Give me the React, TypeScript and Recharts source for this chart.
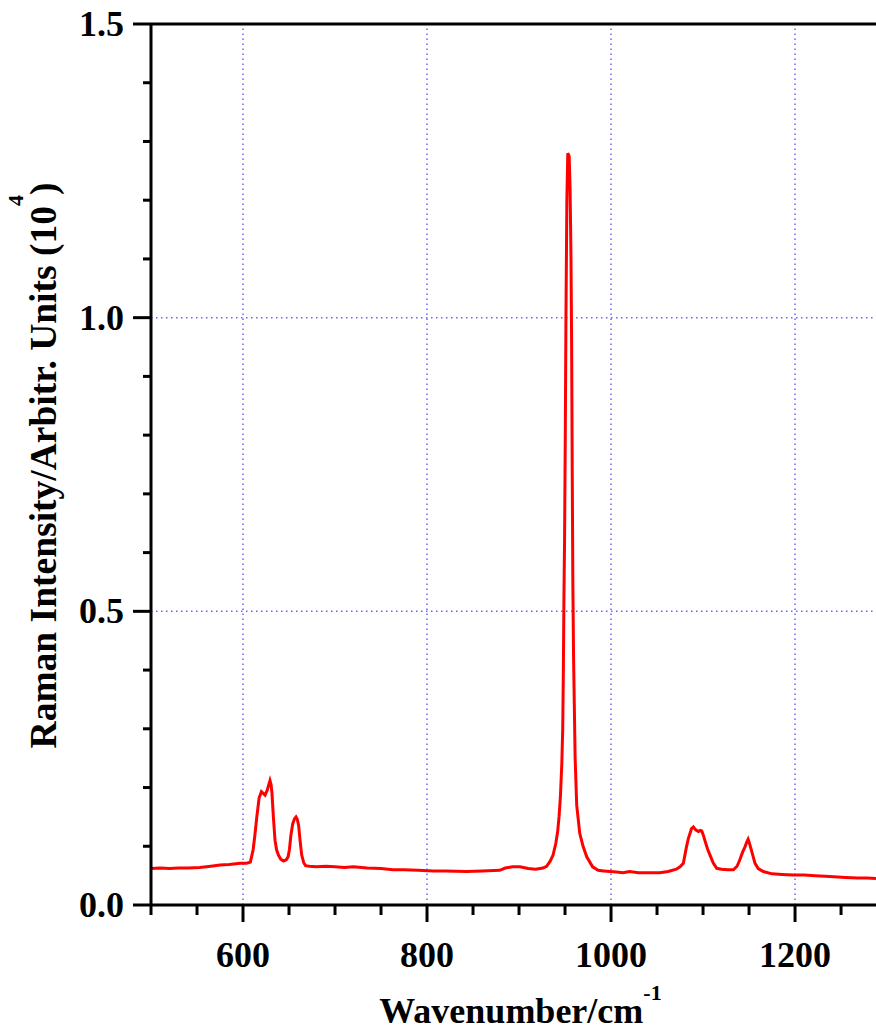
import { LineChart, Line, XAxis, YAxis, ReferenceLine } from 'recharts';

const FONT = '"Liberation Serif", "Times New Roman", serif';

const wavenumbers = [
  500, 510, 520, 530, 540, 553, 565, 575, 585, 597, 604, 608, 611, 613, 615, 617.5, 620, 622, 624,
  626.5, 628, 629.3, 630.5, 631.5, 633, 634.8, 636.5, 638.5, 641, 644, 647, 649, 650.5, 652, 654,
  656, 657.6, 659, 660.5, 662, 663.8, 666, 668, 672, 680, 690, 700, 710, 720, 735, 750, 763, 775,
  790, 807, 820, 843, 860, 879, 885, 893, 901, 910, 918, 926, 930, 934, 937, 940, 942, 943.5, 945,
  946.5, 947.5, 948.2, 948.8, 949.5, 950.3, 951, 952, 953, 954.5, 955.5, 956.5, 957.2, 957.8,
  958.5, 959.3, 960, 961, 962.7, 966, 969.6, 973.6, 980, 986, 992, 999, 1006, 1013, 1020, 1030,
  1042, 1053, 1062, 1071, 1075, 1078.6, 1082, 1084, 1085.9, 1087.5, 1089.5, 1092, 1094.9, 1097,
  1098.6, 1100.5, 1102, 1105, 1107.6, 1111, 1114.9, 1120, 1127, 1133, 1137, 1140, 1143, 1145.6,
  1147.5, 1149, 1150.5, 1153, 1156.5, 1160, 1165.5, 1175, 1186, 1198, 1210, 1222, 1233, 1242,
  1255, 1268, 1278, 1288,
];

const intensity = [
  0.062, 0.063, 0.062, 0.063, 0.063, 0.064, 0.066, 0.068, 0.069, 0.071, 0.071, 0.073, 0.094, 0.12,
  0.15, 0.182, 0.193, 0.19, 0.187, 0.196, 0.205, 0.212, 0.205, 0.19, 0.15, 0.11, 0.094, 0.085,
  0.078, 0.075, 0.077, 0.082, 0.095, 0.118, 0.138, 0.147, 0.15, 0.146, 0.135, 0.11, 0.085, 0.072,
  0.067, 0.066, 0.065, 0.066, 0.065, 0.064, 0.065, 0.063, 0.062, 0.06, 0.06, 0.059, 0.058, 0.058,
  0.057, 0.058, 0.059, 0.063, 0.065, 0.065, 0.062, 0.061, 0.063, 0.066, 0.075, 0.085, 0.105,
  0.125, 0.15, 0.185, 0.24, 0.3, 0.4, 0.52, 0.62, 0.8, 1.0, 1.2, 1.28, 1.275, 1.22, 1.1, 0.95,
  0.75, 0.55, 0.42, 0.35, 0.25, 0.17, 0.122, 0.1, 0.082, 0.065, 0.059, 0.058, 0.057, 0.056, 0.055,
  0.057, 0.055, 0.055, 0.055, 0.057, 0.061, 0.065, 0.071, 0.099, 0.113, 0.122, 0.13, 0.133, 0.128,
  0.125, 0.127, 0.126, 0.118, 0.11, 0.095, 0.085, 0.072, 0.0625, 0.061, 0.06, 0.06, 0.066, 0.077,
  0.09, 0.099, 0.107, 0.112, 0.105, 0.091, 0.071, 0.062, 0.057, 0.053, 0.052, 0.051, 0.051, 0.05,
  0.049, 0.048, 0.047, 0.046, 0.046, 0.045,
];

const xTicks = [500, 550, 600, 650, 700, 750, 800, 850, 900, 950, 1000, 1050, 1100, 1150, 1200, 1250];
const yTicks = [0, 0.1, 0.2, 0.3, 0.4, 0.5, 0.6, 0.7, 0.8, 0.9, 1.0, 1.1, 1.2, 1.3, 1.4, 1.5];
const xGrid = [600, 800, 1000, 1200];
const yGrid = [0.5, 1.0];

const data = wavenumbers.map((x, i) => ({ x, y: intensity[i] }));

const gridStyle = { stroke: '#6666ff', strokeWidth: 1.5, strokeDasharray: '1.5 3.5' };

function XTick({ x, y, payload }: any) {
  const major = payload.value % 200 === 0;
  return (
    <g>
      <line x1={x} y1={y} x2={x} y2={y + (major ? 17 : 10)} stroke="#000" strokeWidth={3} />
      {major && (
        <text x={x} y={y + 62} textAnchor="middle" fontFamily={FONT} fontWeight="bold" fontSize={36} fill="#000">
          {payload.value}
        </text>
      )}
    </g>
  );
}

function YTick({ x, y, payload }: any) {
  const v = payload.value as number;
  const major = Math.abs(v * 2 - Math.round(v * 2)) < 1e-6;
  return (
    <g>
      <line x1={x - (major ? 18 : 8)} y1={y} x2={x} y2={y} stroke="#000" strokeWidth={3} />
      {major && (
        <text x={x - 27} y={y + 12} textAnchor="end" fontFamily={FONT} fontWeight="bold" fontSize={36} fill="#000">
          {v.toFixed(1)}
        </text>
      )}
    </g>
  );
}

function XTitle({ viewBox }: any) {
  const cx = viewBox.x + viewBox.width / 2 + 7;
  return (
    <text x={cx} y={viewBox.y + 118} textAnchor="middle" fontFamily={FONT} fontWeight="bold" fontSize={36} fill="#000">
      Wavenumber/cm
      <tspan dy={-23} fontSize={22}>-1</tspan>
    </text>
  );
}

function YTitle({ viewBox }: any) {
  const cy = viewBox.y + viewBox.height / 2 + 1;
  const bx = 56;
  return (
    <text
      x={bx}
      y={cy}
      transform={`rotate(-90, ${bx}, ${cy})`}
      textAnchor="middle"
      fontFamily={FONT}
      fontWeight="bold"
      fontSize={37.5}
      fill="#000"
    >
      Raman Intensity/Arbitr. Units (10
      <tspan dy={-33} fontSize={22}>4</tspan>
      <tspan dy={33}>)</tspan>
    </text>
  );
}

export default function App() {
  return (
    <div style={{ position: 'absolute', left: 0, top: 0, width: 876, height: 1030, overflow: 'hidden' }}>
      <LineChart width={876} height={1030} data={data} margin={{ top: 24, right: 0, bottom: 0, left: 0 }}>
        {xGrid.map((v) => (
          <ReferenceLine key={`gx${v}`} x={v} {...gridStyle} />
        ))}
        {yGrid.map((v) => (
          <ReferenceLine key={`gy${v}`} y={v} {...gridStyle} />
        ))}
        <ReferenceLine y={1.5} stroke="#000" strokeWidth={3} />
        <XAxis
          dataKey="x"
          type="number"
          domain={[500, 1288]}
          allowDataOverflow
          ticks={xTicks}
          interval={0}
          height={125}
          tickSize={0}
          tickMargin={0}
          tickLine={false}
          axisLine={{ stroke: '#000', strokeWidth: 3 }}
          tick={<XTick />}
          label={{ content: <XTitle /> }}
        />
        <YAxis
          type="number"
          domain={[0, 1.5]}
          ticks={yTicks}
          interval={0}
          width={151}
          tickSize={0}
          tickMargin={0}
          tickLine={false}
          axisLine={{ stroke: '#000', strokeWidth: 3 }}
          tick={<YTick />}
          label={{ content: <YTitle /> }}
        />
        <Line
          dataKey="y"
          type="linear"
          stroke="#ff0000"
          strokeWidth={3}
          dot={false}
          isAnimationActive={false}
        />
      </LineChart>
    </div>
  );
}
